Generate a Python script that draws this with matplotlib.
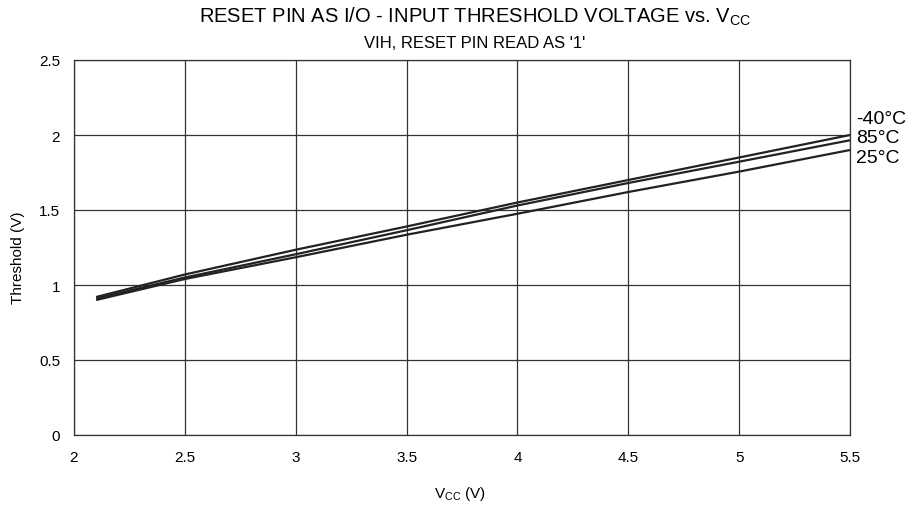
import matplotlib
matplotlib.use("Agg")
import matplotlib.pyplot as plt

vcc = [2.1, 2.5, 3.0, 3.5, 4.0, 4.5, 5.0, 5.5]
th_m40 = [0.92, 1.07, 1.235, 1.39, 1.55, 1.70, 1.85, 2.00]
th_85 = [0.91, 1.05, 1.205, 1.365, 1.53, 1.68, 1.822, 1.965]
th_25 = [0.90, 1.04, 1.185, 1.335, 1.475, 1.62, 1.756, 1.90]
labels = ["-40°C", "85°C", "25°C"]
xticks = [2, 2.5, 3, 3.5, 4, 4.5, 5, 5.5]
yticks = [0, 0.5, 1, 1.5, 2, 2.5]

plt.rcParams['font.family'] = ['Liberation Sans', 'DejaVu Sans']
plt.rcParams['mathtext.fontset'] = 'custom'
plt.rcParams['mathtext.rm'] = 'Liberation Sans'
fig = plt.figure(figsize=(9.23, 5.06), dpi=100)
ax = fig.add_axes([74/923, 70/506, 776/923, 375/506])
for ys in (th_m40, th_85, th_25):
    ax.plot(vcc, ys, color='#222222', lw=1.6, solid_capstyle='butt')
ax.set_xlim(2, 5.5)
ax.set_ylim(0, 2.5)
ax.set_xticks(xticks)
ax.set_xticklabels([f"{t:g}" for t in xticks])
ax.set_yticks(yticks)
ax.set_yticklabels([f"{t:g}" for t in yticks])
ax.grid(True, color='#333333', lw=0.9)
for s in ax.spines.values():
    s.set_color('#333333')
    s.set_linewidth(0.9)
ax.tick_params(axis='x', length=0, labelsize=11, pad=11)
ax.tick_params(axis='y', length=0, labelsize=11, pad=10)

fig.text(460/923, 1 - 494/506, "V$_{\\mathregular{CC}}$ (V)", ha='center', va='center', fontsize=11)
fig.text(18/923, 1 - 258/506, "Threshold (V)", ha='center', va='center', rotation=90, fontsize=11)

fig.text(475/923, 1 - 17/506, "RESET PIN AS I/O - INPUT THRESHOLD VOLTAGE vs. V$_{\\mathregular{CC}}$",
         ha='center', va='center', fontsize=14.5)
fig.text(475/923, 1 - 43/506, "VIH, RESET PIN READ AS '1'",
         ha='center', va='center', fontsize=12)

label_y = [119, 139, 159]
for lab, py in zip(labels, label_y):
    fig.text(856/923, 1 - py/506, lab, ha='left', va='center', fontsize=14)

fig.savefig("out.png", dpi=100)
